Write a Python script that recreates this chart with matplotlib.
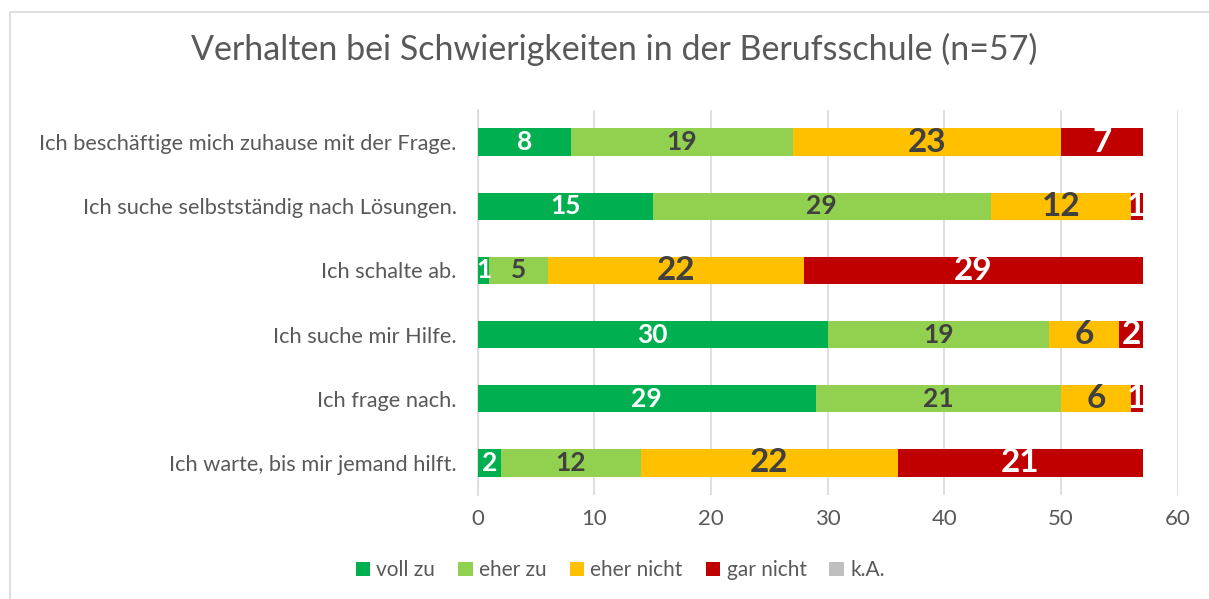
import matplotlib
matplotlib.use("Agg")
import matplotlib.pyplot as plt
from matplotlib.patches import Rectangle
import numpy as np

plt.rcParams['font.family'] = ['Lato', 'DejaVu Sans']

# data
categories = ['Ich beschäftige mich zuhause mit der Frage.',
              'Ich suche selbstständig nach Lösungen.',
              'Ich schalte ab.',
              'Ich suche mir Hilfe.',
              'Ich frage nach.',
              'Ich warte, bis mir jemand hilft.']
series_names = ['voll zu', 'eher zu', 'eher nicht', 'gar nicht', 'k.A.']
voll_zu = [8, 15, 1, 30, 29, 2]
eher_zu = [19, 29, 5, 19, 21, 12]
eher_nicht = [23, 12, 22, 6, 6, 22]
gar_nicht = [7, 1, 29, 2, 1, 21]
k_a = [0, 0, 0, 0, 0, 0]
xticks = [0, 10, 20, 30, 40, 50, 60]

colors = ['#00B050', '#92D050', '#FFC000', '#C00000', '#BFBFBF']
label_colors = ['white', '#404040', '#404040', 'white', '#404040']
label_sizes = [19, 19, 24, 24, 19]

fig = plt.figure(figsize=(12.09, 5.99), dpi=100)
ax = fig.add_axes([0.395, 0.174, 0.579, 0.642])

# chart border
fig.patches.append(Rectangle((10/1209, -0.1), 1.2, 1 - 12/599 + 0.1,
                             transform=fig.transFigure, fill=False,
                             edgecolor='#D9D9D9', linewidth=1.2))

y = np.arange(len(categories))
left = np.zeros(len(categories))
all_series = [voll_zu, eher_zu, eher_nicht, gar_nicht, k_a]
for vals, name, c, lc, ls in zip(all_series, series_names, colors, label_colors, label_sizes):
    vals = np.array(vals, dtype=float)
    ax.barh(y, vals, left=left, height=0.43, color=c, label=name, zorder=3)
    for yi, v, l in zip(y, vals, left):
        if v > 0:
            ax.text(l + v / 2, yi, str(int(v)), ha='center', va='center',
                    color=lc, fontsize=ls, fontweight='bold', zorder=4)
    left += vals

ax.set_ylim(len(categories) - 0.5, -0.5)
ax.set_xlim(0, 60)
ax.set_xticks(xticks)
ax.set_yticks(y)
ax.set_yticklabels(categories)
ax.tick_params(axis='both', length=0, labelsize=16, colors='#595959')
ax.tick_params(axis='y', labelsize=15.7, pad=15)
ax.tick_params(axis='x', pad=10)
ax.grid(axis='x', color='#D9D9D9', linewidth=1.2, zorder=0)
for s in ['top', 'right', 'bottom']:
    ax.spines[s].set_visible(False)
ax.spines['left'].set_color('#D9D9D9')
ax.spines['left'].set_linewidth(1.2)

fig.suptitle('Verhalten bei Schwierigkeiten in der Berufsschule (n=57)',
             x=0.508, y=0.945, fontsize=24.5, color='#595959')

fig.legend(loc='center', bbox_to_anchor=(0.513, 0.048), ncol=5, frameon=False,
           fontsize=15, labelcolor='#595959', handlelength=0.7, handleheight=0.7,
           handletextpad=0.3, columnspacing=1.1)

fig.savefig('out.png', dpi=100)
